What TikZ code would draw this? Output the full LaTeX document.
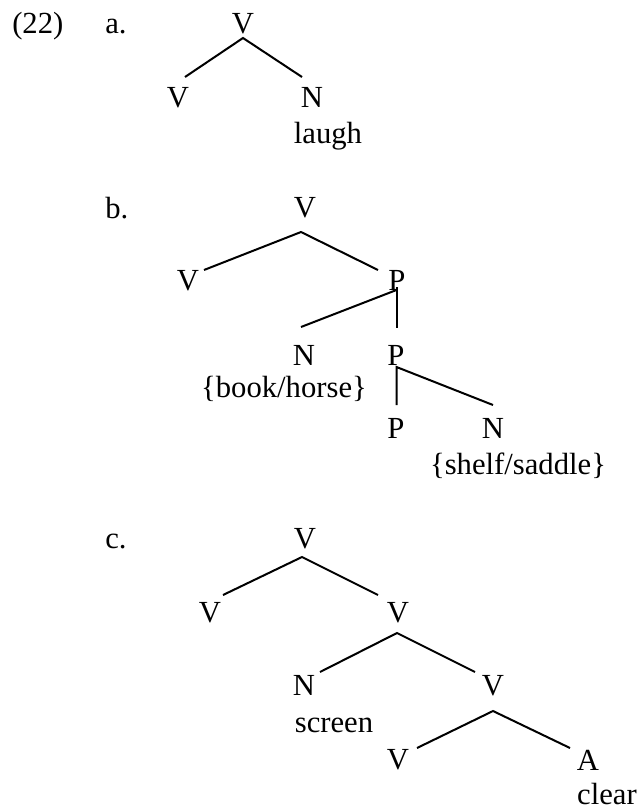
\documentclass[tikz,border=0pt]{standalone}
\usepackage{fontspec}
\setmainfont{Liberation Serif}
\begin{document}
\begin{tikzpicture}[x=0.75pt,y=-0.75pt,
  lab/.style={inner sep=0pt,anchor=base,font=\fontsize{23}{27}\selectfont},
  labw/.style={lab,anchor=base west},
  br/.style={line width=1.5pt}]
\useasboundingbox (0,0) rectangle (640,810);
% (a)
\node[labw] (ex) at (12,33) {(22)};
\node[labw] (la) at (105,33) {a.};
\node[lab] (aV) at (243,33) {V};
\node[lab] (aVl) at (178,107) {V};
\node[lab] (aN) at (312,107) {N};
\node[lab] (laugh) at (328,143) {laugh};
\coordinate (aJ) at (243,38);
\coordinate (aL) at (185,77);
\coordinate (aR) at (302,77);
\draw[br] (aL) -- (aJ) -- (aR);
% (b)
\node[labw] (lb) at (105,218) {b.};
\node[lab] (bV) at (305,217) {V};
\node[lab] (bVl) at (188,290) {V};
\node[lab] (bP1) at (397,290) {P};
\node[lab] (bN) at (304,365) {N};
\node[lab] (bP2) at (396,365) {P};
\node[lab] (bh) at (284,397) {\{book/horse\}};
\node[lab] (bP3) at (396,438) {P};
\node[lab] (bN2) at (493,438) {N};
\node[lab] (ss) at (518,474) {\{shelf/saddle\}};
\coordinate (bJ) at (301,232);
\coordinate (bL) at (204,270);
\coordinate (bR) at (378,270);
\draw[br] (bL) -- (bJ) -- (bR);
\coordinate (bJ2) at (396.5,290);
\coordinate (bL2) at (301,327);
\coordinate (bR2) at (396.5,328);
\draw[br] (bL2) -- (bJ2);
\draw[br] (396.5,287) -- (bR2);
\coordinate (bJ3) at (396.5,367);
\coordinate (bL3) at (396.5,405);
\coordinate (bR3) at (493,405);
\draw[br] (bL3) -- (bJ3) -- (bR3);
% (c)
\node[labw] (lc) at (105,548) {c.};
\node[lab] (cV) at (305,548) {V};
\node[lab] (cV1) at (210,622) {V};
\node[lab] (cV2) at (398,622) {V};
\node[lab] (cN) at (304,695) {N};
\node[lab] (cV3) at (493,695) {V};
\node[lab] (screen) at (334,732) {screen};
\node[lab] (cV4) at (398,769) {V};
\node[lab] (cA) at (588,770) {A};
\node[lab] (clear) at (607,804) {clear};
\coordinate (cJ) at (302,557);
\coordinate (cL) at (223,595);
\coordinate (cR) at (378,595);
\draw[br] (cL) -- (cJ) -- (cR);
\coordinate (cJ2) at (397,633);
\coordinate (cL2) at (320,672);
\coordinate (cR2) at (475,672);
\draw[br] (cL2) -- (cJ2) -- (cR2);
\coordinate (cJ3) at (493,711);
\coordinate (cL3) at (417,748);
\coordinate (cR3) at (570,748);
\draw[br] (cL3) -- (cJ3) -- (cR3);
\end{tikzpicture}
\end{document}
